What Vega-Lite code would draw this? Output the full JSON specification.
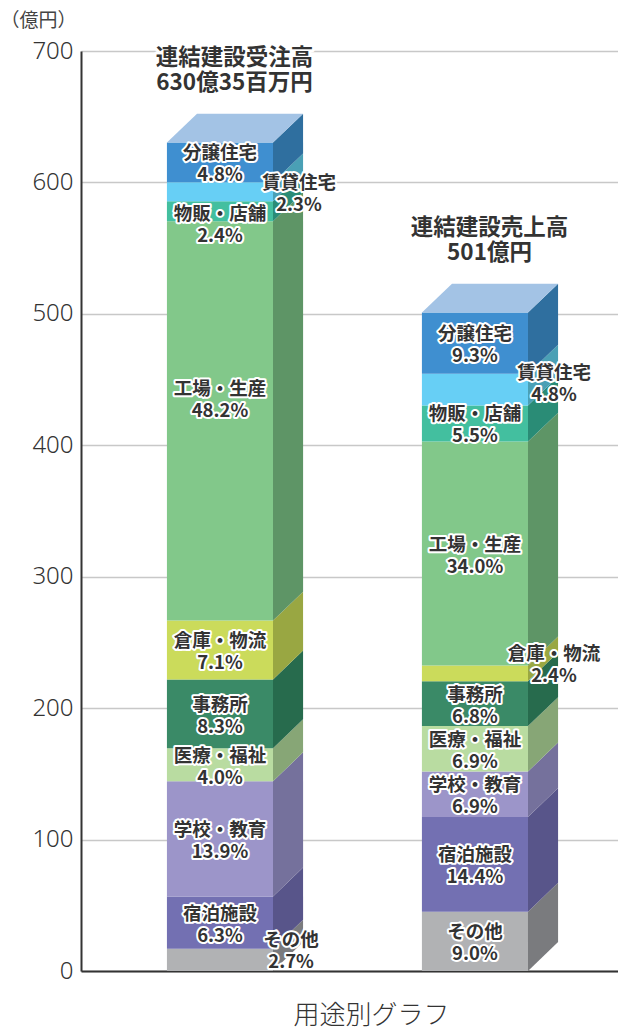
{
  "$schema": "https://vega.github.io/schema/vega-lite/v6.json",
  "width": 537,
  "height": 920,
  "autosize": {"type": "none"},
  "padding": {"left": 81, "top": 51, "right": 0, "bottom": 60},
  "background": "white",
  "config": {"view": {"stroke": null}},
  "datasets": {
    "segments": [
      {"bar": "受注高", "cat": "その他", "value": 17.02, "pct": "2.7%", "ord": 1},
      {"bar": "受注高", "cat": "宿泊施設", "value": 39.71, "pct": "6.3%", "ord": 2},
      {"bar": "受注高", "cat": "学校・教育", "value": 87.62, "pct": "13.9%", "ord": 3},
      {"bar": "受注高", "cat": "医療・福祉", "value": 25.21, "pct": "4.0%", "ord": 4},
      {"bar": "受注高", "cat": "事務所", "value": 52.32, "pct": "8.3%", "ord": 5},
      {"bar": "受注高", "cat": "倉庫・物流", "value": 44.75, "pct": "7.1%", "ord": 6},
      {"bar": "受注高", "cat": "工場・生産", "value": 303.83, "pct": "48.2%", "ord": 7},
      {"bar": "受注高", "cat": "物販・店舗", "value": 15.13, "pct": "2.4%", "ord": 8},
      {"bar": "受注高", "cat": "賃貸住宅", "value": 14.5, "pct": "2.3%", "ord": 9},
      {"bar": "受注高", "cat": "分譲住宅", "value": 30.26, "pct": "4.8%", "ord": 10},
      {"bar": "売上高", "cat": "その他", "value": 45.09, "pct": "9.0%", "ord": 1},
      {"bar": "売上高", "cat": "宿泊施設", "value": 72.14, "pct": "14.4%", "ord": 2},
      {"bar": "売上高", "cat": "学校・教育", "value": 34.57, "pct": "6.9%", "ord": 3},
      {"bar": "売上高", "cat": "医療・福祉", "value": 34.57, "pct": "6.9%", "ord": 4},
      {"bar": "売上高", "cat": "事務所", "value": 34.07, "pct": "6.8%", "ord": 5},
      {"bar": "売上高", "cat": "倉庫・物流", "value": 12.02, "pct": "2.4%", "ord": 6},
      {"bar": "売上高", "cat": "工場・生産", "value": 170.34, "pct": "34.0%", "ord": 7},
      {"bar": "売上高", "cat": "物販・店舗", "value": 27.56, "pct": "5.5%", "ord": 8},
      {"bar": "売上高", "cat": "賃貸住宅", "value": 24.05, "pct": "4.8%", "ord": 9},
      {"bar": "売上高", "cat": "分譲住宅", "value": 46.59, "pct": "9.3%", "ord": 10}
    ],
    "bars": [
      {"bar": "受注高", "total": 630.35, "line1": "連結建設受注高", "line2": "630億35百万円"},
      {"bar": "売上高", "total": 501, "line1": "連結建設売上高", "line2": "501億円"}
    ]
  },
  "data": {"name": "segments"},
  "transform": [
    {"stack": "value", "groupby": ["bar"], "sort": [{"field": "ord", "order": "ascending"}], "as": ["y0", "y1"]},
    {"calculate": "datum.bar === '受注高' ? 0 : 1", "as": "idx"},
    {"calculate": "datum.idx - 0.208", "as": "xl"},
    {"calculate": "datum.idx + 0.208", "as": "xr"}
  ],
  "layer": [
    {
      "mark": {"type": "rect"},
      "encoding": {
        "x": {
          "field": "xl", "type": "quantitative", "title": "用途別グラフ",
          "scale": {"domain": [-0.545, 1.561], "nice": false, "zero": false},
          "axis": {
            "grid": false, "ticks": false, "labels": false,
            "domainColor": "#333", "domainWidth": 2,
            "titleX": 290, "titleY": 44, "titleAlign": "center", "titleBaseline": "middle",
            "titleFont": "Noto Sans CJK JP", "titleFontSize": 26, "titleFontWeight": 300, "titleColor": "#333"
          }
        },
        "x2": {"field": "xr"},
        "y": {
          "field": "y0", "type": "quantitative", "title": "（億円）",
          "scale": {"domain": [0, 700], "nice": false},
          "axis": {
            "values": [0, 100, 200, 300, 400, 500, 600, 700],
            "grid": true, "gridColor": "#c8c8c8", "gridWidth": 1.5,
            "ticks": false, "domainColor": "#333", "domainWidth": 2,
            "labelFont": "Noto Sans", "labelFontSize": 24, "labelFontWeight": 300,
            "labelColor": "#333", "labelPadding": 8, "labelFlush": false,
            "titleAngle": 0, "titleX": -81, "titleY": -31, "titleAlign": "left", "titleBaseline": "middle",
            "titleFont": "Noto Sans CJK JP", "titleFontSize": 19, "titleFontWeight": "normal", "titleColor": "#444"
          }
        },
        "y2": {"field": "y1"},
        "color": {
          "field": "cat", "type": "nominal", "legend": null,
          "scale": {
            "domain": ["その他", "宿泊施設", "学校・教育", "医療・福祉", "事務所", "倉庫・物流", "工場・生産", "物販・店舗", "賃貸住宅", "分譲住宅"],
            "range": ["#b1b2b4", "#7370b2", "#9c95c9", "#b9dca1", "#3a8a67", "#cbdb5b", "#82c88a", "#43bf9f", "#67cff5", "#3f8fd0"]
          }
        }
      }
    },
    {
      "transform": [
        {"calculate": "[0, 1]", "as": "edge"},
        {"flatten": ["edge"]},
        {"calculate": "datum.xr + datum.edge * 0.118", "as": "sx"},
        {"calculate": "datum.y0 + datum.edge * 22", "as": "sy0"},
        {"calculate": "datum.y1 + datum.edge * 22", "as": "sy1"}
      ],
      "mark": {"type": "area", "orient": "vertical", "interpolate": "linear"},
      "encoding": {
        "x": {"field": "sx", "type": "quantitative", "title": "用途別グラフ"},
        "y": {"field": "sy0", "type": "quantitative", "title": "（億円）", "stack": null},
        "y2": {"field": "sy1"},
        "fill": {
          "field": "cat", "type": "nominal", "legend": null,
          "scale": {
            "domain": ["その他", "宿泊施設", "学校・教育", "医療・福祉", "事務所", "倉庫・物流", "工場・生産", "物販・店舗", "賃貸住宅", "分譲住宅"],
            "range": ["#7a7b7e", "#58558a", "#75719c", "#87a676", "#276b4d", "#99a742", "#5e9566", "#2a8c76", "#4aa0b5", "#2f6f9f"]
          }
        },
        "detail": {"field": "bar"}
      }
    },
    {
      "data": {"name": "bars"},
      "transform": [
        {"calculate": "datum.bar === '受注高' ? 0 : 1", "as": "idx"},
        {"calculate": "[0, 1]", "as": "edge"},
        {"flatten": ["edge"]},
        {"calculate": "datum.idx - 0.208 + datum.edge * 0.118", "as": "tx1"},
        {"calculate": "datum.idx + 0.208 + datum.edge * 0.118", "as": "tx2"},
        {"calculate": "datum.total + datum.edge * 22", "as": "ty"}
      ],
      "mark": {"type": "area", "orient": "horizontal", "color": "#a3c3e5"},
      "encoding": {
        "y": {"field": "ty", "type": "quantitative", "title": "（億円）"},
        "x": {"field": "tx1", "type": "quantitative", "title": "用途別グラフ", "stack": null},
        "x2": {"field": "tx2"},
        "detail": {"field": "bar"}
      }
    },
    {
      "transform": [
        {"calculate": "datum.cat === '賃貸住宅' || (datum.bar === '売上高' && datum.cat === '倉庫・物流') || (datum.bar === '受注高' && datum.cat === 'その他')", "as": "side"},
        {"calculate": "datum.side ? (datum.cat === 'その他' ? datum.idx + 0.279 : datum.idx + 0.31) : datum.idx", "as": "lx"},
        {"calculate": "(datum.y0 + datum.y1) / 2 + (datum.bar === '受注高' ? (datum.cat === '工場・生産' ? 17.5 : datum.cat === '物販・店舗' ? -9 : datum.cat === 'その他' ? 8 : 0) : (datum.cat === '賃貸住宅' ? 6 : datum.cat === '倉庫・物流' ? 8 : 0))", "as": "ly"},
        {"calculate": "datum.cat + '\\n' + datum.pct", "as": "txt"}
      ],
      "layer": [
        {
          "mark": {"type": "text", "font": "Noto Sans CJK JP", "fontSize": 18.5, "fontWeight": "bold", "lineHeight": 22, "lineBreak": "\n", "baseline": "middle", "align": "center", "dy": -9, "color": "white", "stroke": "white", "strokeWidth": 4, "strokeJoin": "round"},
          "encoding": {
            "x": {"field": "lx", "type": "quantitative", "title": "用途別グラフ"},
            "y": {"field": "ly", "type": "quantitative", "title": "（億円）"},
            "text": {"field": "txt"}
          }
        },
        {
          "mark": {"type": "text", "font": "Noto Sans CJK JP", "fontSize": 18.5, "fontWeight": "bold", "lineHeight": 22, "lineBreak": "\n", "baseline": "middle", "align": "center", "dy": -9, "color": "#333"},
          "encoding": {
            "x": {"field": "lx", "type": "quantitative", "title": "用途別グラフ"},
            "y": {"field": "ly", "type": "quantitative", "title": "（億円）"},
            "text": {"field": "txt"}
          }
        }
      ]
    },
    {
      "data": {"name": "bars"},
      "transform": [
        {"calculate": "datum.bar === '受注高' ? 0 : 1", "as": "idx"},
        {"calculate": "datum.idx + 0.057", "as": "tx"},
        {"calculate": "datum.line1 + '\\n' + datum.line2", "as": "tt"}
      ],
      "layer": [
        {
          "mark": {"type": "text", "font": "Noto Sans CJK JP", "fontSize": 22.5, "fontWeight": "bold", "lineHeight": 25, "lineBreak": "\n", "baseline": "middle", "align": "center", "dy": -85, "color": "white", "stroke": "white", "strokeWidth": 6, "strokeJoin": "round"},
          "encoding": {
            "x": {"field": "tx", "type": "quantitative", "title": "用途別グラフ"},
            "y": {"field": "total", "type": "quantitative", "title": "（億円）"},
            "text": {"field": "tt"}
          }
        },
        {
          "mark": {"type": "text", "font": "Noto Sans CJK JP", "fontSize": 22.5, "fontWeight": "bold", "lineHeight": 25, "lineBreak": "\n", "baseline": "middle", "align": "center", "dy": -85, "color": "#333"},
          "encoding": {
            "x": {"field": "tx", "type": "quantitative", "title": "用途別グラフ"},
            "y": {"field": "total", "type": "quantitative", "title": "（億円）"},
            "text": {"field": "tt"}
          }
        }
      ]
    }
  ],
  "resolve": {"scale": {"color": "independent"}}
}
